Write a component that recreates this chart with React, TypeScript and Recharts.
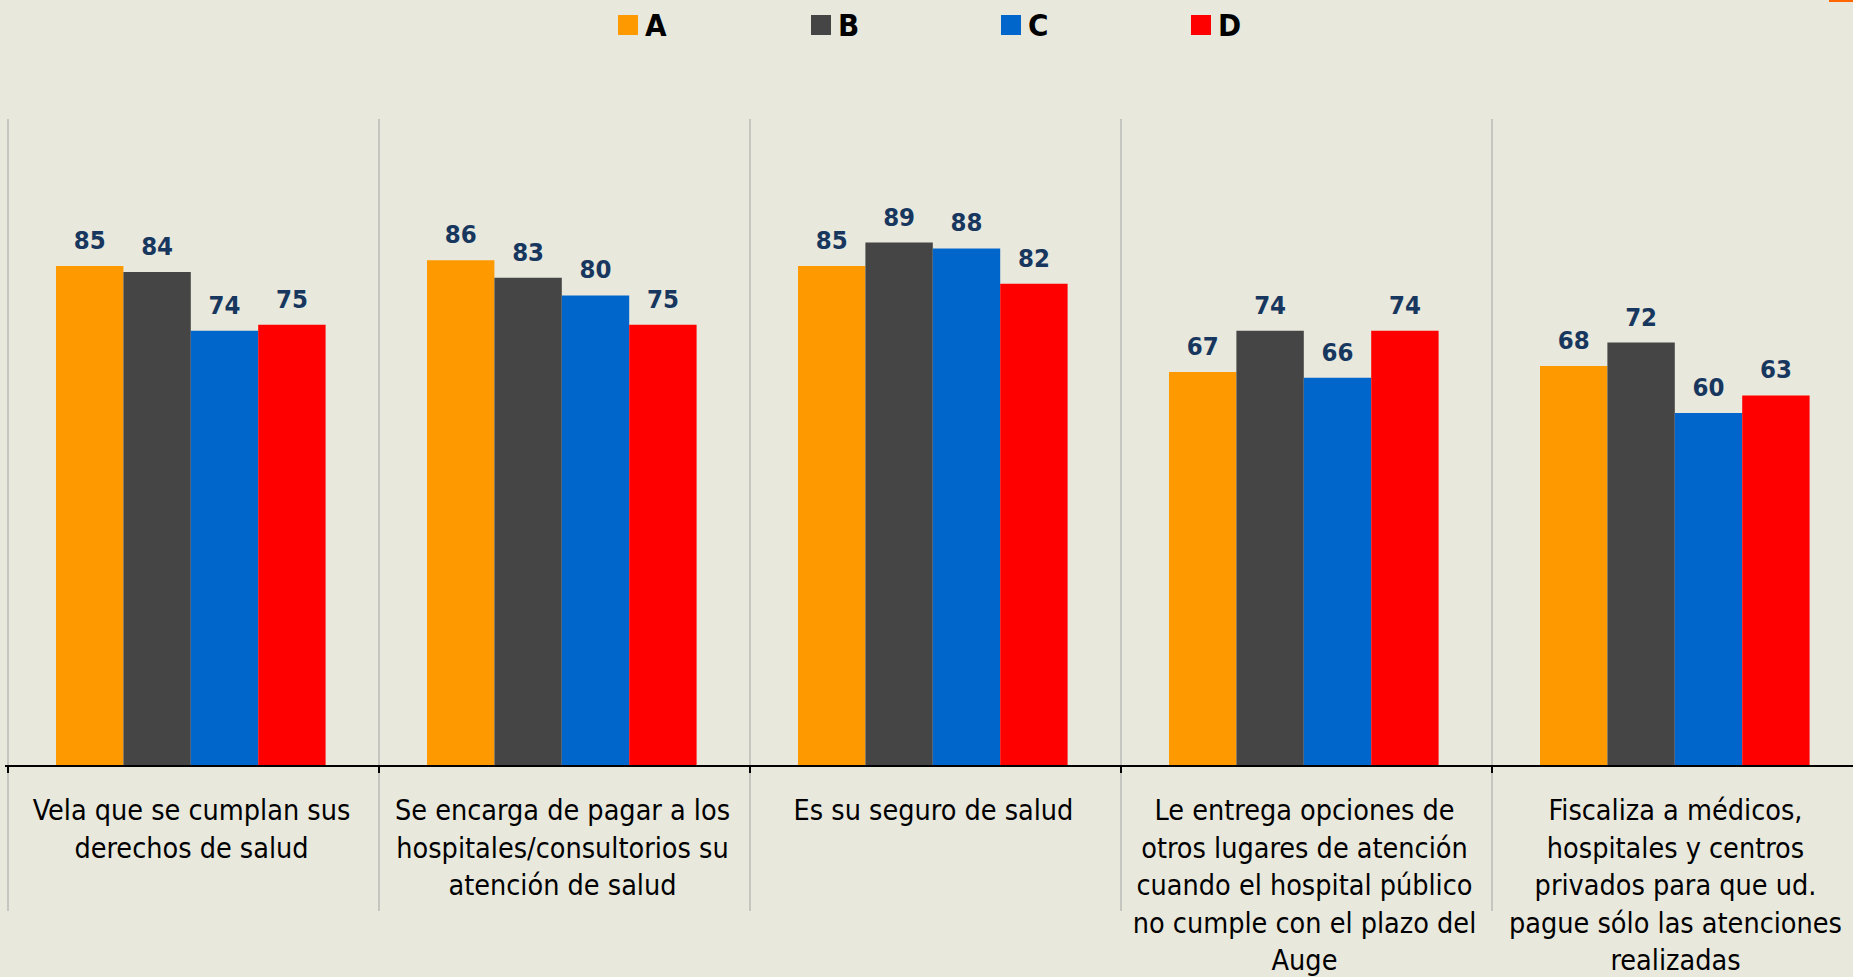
import { Bar, BarChart, CartesianGrid, LabelList, XAxis, YAxis } from "recharts";

const categories = [
  "Vela que se cumplan sus\nderechos de salud",
  "Se encarga de pagar a los\nhospitales/consultorios su\natención de salud",
  "Es su seguro de salud",
  "Le entrega opciones de\notros lugares de atención\ncuando el hospital público\nno cumple con el plazo del\nAuge",
  "Fiscaliza a médicos,\nhospitales y centros\nprivados para que ud.\npague sólo las atenciones\nrealizadas",
];

const seriesA = [85, 86, 85, 67, 68];
const seriesB = [84, 83, 89, 74, 72];
const seriesC = [74, 80, 88, 66, 60];
const seriesD = [75, 75, 82, 74, 63];

const seriesNames = ["A", "B", "C", "D"];
const seriesColors = ["#FF9900", "#454545", "#0066CC", "#FF0000"];

const data = categories.map((name, i) => ({
  name,
  A: seriesA[i],
  B: seriesB[i],
  C: seriesC[i],
  D: seriesD[i],
}));

const BG = "#E8E8DD";
const FONT = "'DejaVu Sans Condensed', 'DejaVu Sans', sans-serif";
// bars sit a few px left of the band centre in the original
const SHIFT = 3;
const PLOT_LEFT = 8 - SHIFT;
const PLOT_TOP = 119;
const PLOT_BOTTOM = 766;
const PLOT_W = 1855;
const CHART_W = PLOT_LEFT + PLOT_W;
const CHART_H = 977;
const BAND = PLOT_W / categories.length;

function CategoryTick(props: any) {
  const { x, payload } = props;
  const lines = String(payload.value).split("\n");
  const left = x - BAND / 2 + SHIFT;
  const cx = x + 1;
  return (
    <g>
      <line x1={left} x2={left} y1={PLOT_BOTTOM} y2={911} stroke="#C6C6C0" strokeWidth={2} />
      <line x1={left} x2={left} y1={PLOT_BOTTOM} y2={773} stroke="#000" strokeWidth={2} />
      <text
        x={cx}
        y={PLOT_BOTTOM + 54}
        textAnchor="middle"
        fill="#000"
        fontFamily={FONT}
        fontSize={28.5}
      >
        {lines.map((l, i) => (
          <tspan key={i} x={cx} dy={i === 0 ? 0 : 37.5}>
            {l}
          </tspan>
        ))}
      </text>
    </g>
  );
}

const legendX = [618, 811, 1001, 1191];

export default function App() {
  return (
    <div
      style={{
        position: "absolute",
        left: 0,
        top: 0,
        width: 1853,
        height: 977,
        overflow: "hidden",
        background: BG,
      }}
    >
      <div style={{ position: "absolute", right: 0, top: 0, width: 24, height: 2, background: "#FF6600" }} />
      {seriesNames.map((s, i) => (
        <div
          key={s}
          style={{
            position: "absolute",
            left: legendX[i],
            top: 7,
            display: "flex",
            alignItems: "center",
            fontFamily: FONT,
            fontWeight: "bold",
            fontSize: 31,
            color: "#000",
          }}
        >
          <span style={{ display: "inline-block", width: 20, height: 20, background: seriesColors[i], marginRight: 7 }} />
          <span>{s}</span>
        </div>
      ))}
      <BarChart
        width={CHART_W}
        height={CHART_H}
        data={data}
        margin={{ left: PLOT_LEFT, right: 0, top: PLOT_TOP, bottom: 0 }}
        barGap={0}
      >
        <CartesianGrid
          horizontal={false}
          stroke="#C6C6C0"
          strokeWidth={2}
          verticalCoordinatesGenerator={() => categories.map((_, i) => PLOT_LEFT + SHIFT + i * BAND)}
        />
        <XAxis
          dataKey="name"
          interval={0}
          height={CHART_H - PLOT_BOTTOM}
          axisLine={{ stroke: "#000", strokeWidth: 2 }}
          tickLine={false}
          tick={<CategoryTick />}
        />
        <YAxis hide domain={[0, 110]} />
        {seriesNames.map((s, i) => (
          <Bar key={s} dataKey={s} fill={seriesColors[i]} barSize={67.4} isAnimationActive={false}>
            <LabelList
              dataKey={s}
              position="top"
              offset={17}
              fill="#17375E"
              fontFamily={FONT}
              fontWeight="bold"
              fontSize={25.5}
            />
          </Bar>
        ))}
      </BarChart>
    </div>
  );
}
